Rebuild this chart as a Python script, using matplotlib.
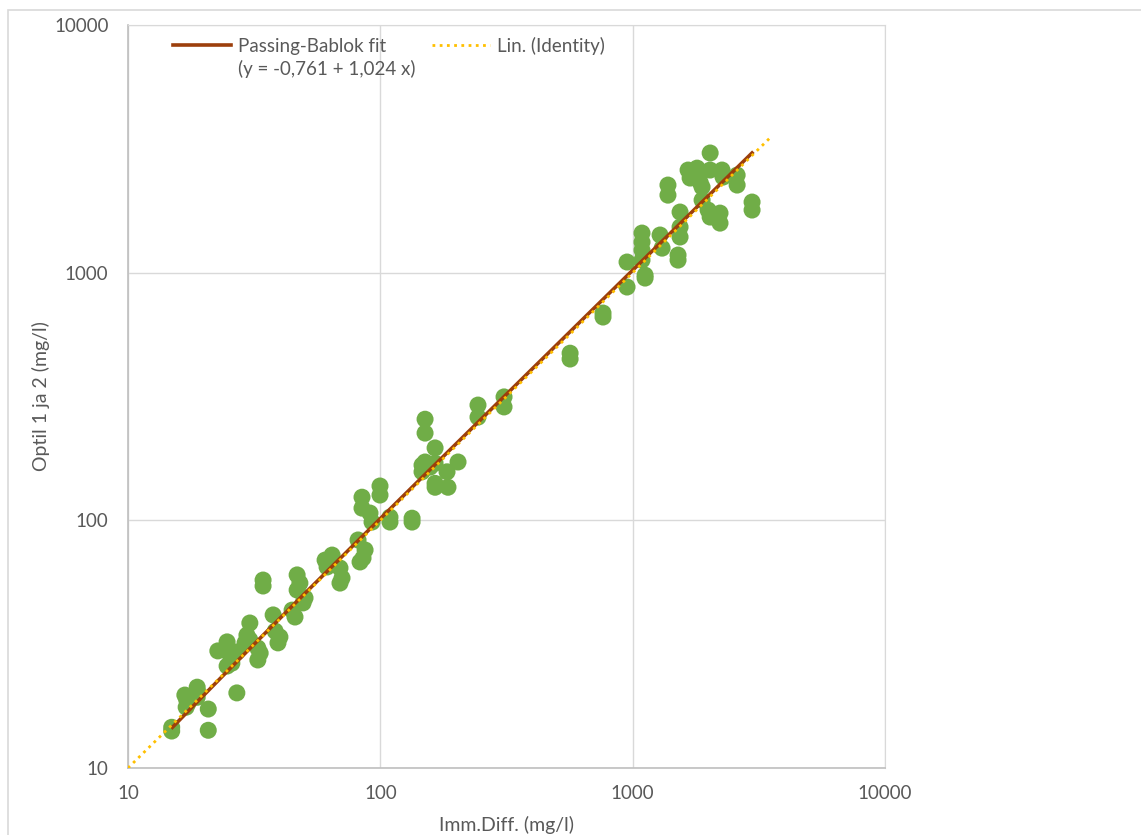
import numpy as np
import matplotlib.pyplot as plt
from matplotlib.lines import Line2D
from matplotlib.patches import Rectangle

plt.rcParams['font.family'] = ['Lato', 'DejaVu Sans']

# Imm.Diff. (x) and Optil 1 ja 2 (y), mg/l
imm_diff = [
    14.9, 14.9, 16.8, 17.1, 17.0, 17.3, 18.8, 18.9, 18.8, 20.8, 20.8, 27.0,
    22.7, 24.7, 24.9, 27.0, 24.7, 25.8, 29.6, 30.4, 29.1, 30.4, 32.7, 33.4,
    32.7, 34.3, 34.3, 37.6, 38.3, 40.0, 39.3, 44.7, 45.9, 46.8, 48.0, 46.8,
    50.3, 49.4, 60.4, 64.4, 63.2, 61.5, 69.2, 70.5, 69.2, 81.6, 87.0, 85.4,
    83.1,
    84.6, 84.6, 91.0, 92.7, 99.7, 99.7, 109.2, 109.2, 133.6, 133.6, 150.4,
    150.4, 164.8, 146.3, 150.4, 146.3, 157.4, 164.8, 164.8, 164.8, 183.8,
    185.4, 203.2, 243.8, 243.8, 309.2, 309.2,
    565, 565, 763, 763, 950, 950, 1120, 1120, 1089, 1089, 1089, 1089, 1284,
    1308, 1541, 1541, 1541, 1513, 1513, 1380, 1380, 1658, 1689, 1800, 1800,
    1850, 1884, 1884, 2028, 2028, 2260, 2281, 1990, 2028, 2219, 2219, 2594,
    2594, 2973, 2973,
]
optil = [
    14.6, 14.1, 19.7, 18.8, 17.6, 18.3, 21.2, 20.3, 19.3, 17.3, 14.2, 20.1,
    29.7, 32.3, 29.4, 29.4, 25.8, 26.5, 34.4, 32.9, 32.0, 38.5, 30.5, 29.1,
    27.3, 57.4, 54.3, 41.5, 35.7, 33.8, 32.0, 43.4, 40.7, 60.2, 55.8, 52.3,
    48.6, 46.4, 69.1, 72.4, 67.2, 64.8, 64.2, 58.5, 55.8, 83.3, 75.9, 70.4,
    67.9,
    124, 112, 107, 98.4, 137.6, 126.5, 103, 98.4, 102, 98.4, 256,
    225, 196, 167, 172, 157, 164, 170, 141, 136, 157,
    136, 172, 292, 261, 315, 287,
    473, 448, 687, 662, 875, 1104, 977, 951, 1445, 1329, 1233, 1124, 1419,
    1256, 1757, 1528, 1393, 1178, 1124, 2258, 2056, 2596, 2410, 2643, 2432,
    2321, 2216, 1963, 3042, 2596, 2596, 2432, 1790, 1677, 1740, 1585, 2477,
    2258, 1928, 1790,
]

# Passing-Bablok fit y = a + b*x
pb_a = -0.761
pb_b = 1.024
fit_x = [15, 2973]
identity_x = [10, 3500]

fig = plt.figure(figsize=(11.41, 8.35), dpi=100)
ax = fig.add_axes([128 / 1141, 67 / 835, 757 / 1141, 743 / 835])

# frame of the chart area
fig.patches.append(Rectangle((8 / 1141, -0.1), 1.2, 1.1 - 10 / 835,
                             transform=fig.transFigure, fill=False,
                             edgecolor='#D9D9D9', linewidth=1.2))

ax.scatter(imm_diff, optil, s=150, color='#70AD47', edgecolors='none', zorder=3)

fx = np.geomspace(fit_x[0], fit_x[1], 200)
ax.plot(fx, pb_a + pb_b * fx, color='#9C3F0C', linewidth=2.6, zorder=4)
ix = np.geomspace(identity_x[0], identity_x[1], 200)
ax.plot(ix, ix, color='#FFC000', linewidth=2, linestyle=(0, (1, 1.6)), zorder=5)

ax.set_xscale('log')
ax.set_yscale('log')
ax.set_xlim(10, 10000)
ax.set_ylim(10, 10000)
ax.set_xticks([10, 100, 1000, 10000])
ax.set_xticklabels(['10', '100', '1000', '10000'])
ax.set_yticks([10, 100, 1000, 10000])
ax.set_yticklabels(['10', '100', '1000', '10000'])
ax.minorticks_off()
ax.tick_params(length=0, labelsize=13.5, labelcolor='#595959', pad=12)
ax.tick_params(axis='y', pad=14)
ax.grid(True, color='#D9D9D9', linewidth=1)
ax.set_axisbelow(True)
for side in ['top', 'right']:
    ax.spines[side].set_color('#D9D9D9')
for side in ['left', 'bottom']:
    ax.spines[side].set_color('#BFBFBF')
    ax.spines[side].set_linewidth(1.2)

ax.set_xlabel('Imm.Diff. (mg/l)', fontsize=14, color='#595959', labelpad=10)
ax.set_ylabel('Optil 1 ja 2 (mg/l)', fontsize=14, color='#595959', labelpad=3)

handles = [
    Line2D([], [], color='#9C3F0C', linewidth=2.6),
    Line2D([], [], color='none'),
    Line2D([], [], color='#FFC000', linewidth=2, linestyle=(0, (1, 1.6))),
]
labels = ['Passing-Bablok fit', '(y = -0,761 + 1,024 x)', 'Lin. (Identity)']
leg = ax.legend(handles, labels, ncol=2, loc='upper left',
                bbox_to_anchor=(0.037, 1.007), frameon=False, fontsize=13.5,
                handlelength=3.1, handletextpad=0.35, columnspacing=0.9,
                labelspacing=0.3, labelcolor='#595959')

fig.savefig('out.png', dpi=100)
